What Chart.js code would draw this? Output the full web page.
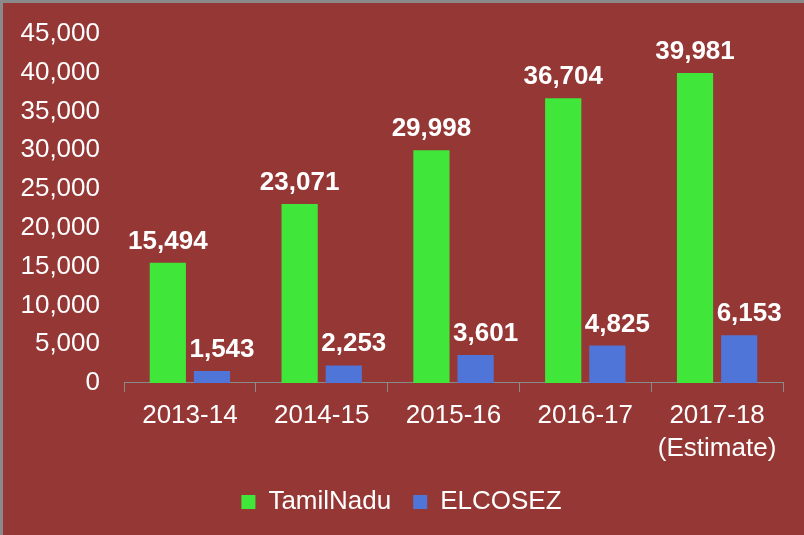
<!DOCTYPE html>
<html>
<head>
<meta charset="utf-8">
<script src="https://cdn.jsdelivr.net/npm/chart.js@4"></script>
<style>
  html, body { margin: 0; padding: 0; }
  body { width: 804px; height: 535px; background: #953735; overflow: hidden; }
  .frame { width: 801px; height: 532px; border-top: 3px solid #8a8a8a; border-left: 3px solid #8a8a8a; }
</style>
</head>
<body>
<div class="frame"><canvas id="myChart" width="801" height="532"></canvas></div>
<script>
// datos
const years = ['2013-14', '2014-15', '2015-16', '2016-17', ['2017-18', '(Estimate)']];
const tamilNadu = [15494, 23071, 29998, 36704, 39981];
const elcosez = [1543, 2253, 3601, 4825, 6153];
const yTicks = [0, 5000, 10000, 15000, 20000, 25000, 30000, 35000, 40000, 45000];

const fmt = v => v.toLocaleString('en-US');

// rotulos sobre as barras
const barLabels = {
  id: 'barLabels',
  afterDatasetsDraw(chart) {
    const c = chart.ctx;
    c.save();
    c.fillStyle = '#ffffff';
    c.font = 'bold 26px "Liberation Sans", Arial, sans-serif';
    c.textAlign = 'center';
    c.textBaseline = 'alphabetic';
    chart.data.datasets.forEach((ds, i) => {
      chart.getDatasetMeta(i).data.forEach((bar, j) => {
        const dx = i === 1 ? 10 : 0;
        c.fillText(fmt(ds.data[j]), bar.x + dx, bar.y - 14);
      });
    });
    c.restore();
  }
};

Chart.defaults.font.family = '"Liberation Sans", Arial, sans-serif';
Chart.defaults.color = '#ffffff';

new Chart(document.getElementById('myChart'), {
  type: 'bar',
  data: {
    labels: years,
    datasets: [{
      label: 'TamilNadu',
      data: tamilNadu,
      backgroundColor: '#41e63a',
      barPercentage: 0.82,
      categoryPercentage: 0.67
    }, {
      label: 'ELCOSEZ',
      data: elcosez,
      backgroundColor: '#5075d8',
      barPercentage: 0.82,
      categoryPercentage: 0.67
    }]
  },
  options: {
    responsive: false,
    animation: false,
    layout: { padding: { left: 17, right: 21, top: 31, bottom: 10 } },
    plugins: {
      tooltip: { enabled: false },
      legend: {
        position: 'bottom',
        labels: {
          color: '#ffffff',
          font: { size: 26 },
          boxWidth: 14,
          boxHeight: 14,
          padding: 22
        }
      }
    },
    scales: {
      x: {
        afterFit: axis => { axis.height -= 5; },
        grid: {
          display: true,
          offset: true,
          drawOnChartArea: false,
          drawTicks: true,
          tickLength: 9,
          color: '#8a8a8a'
        },
        border: { display: true, color: '#8a8a8a', width: 1 },
        ticks: { color: '#ffffff', font: { size: 26, lineHeight: 1.27 }, padding: 7 }
      },
      y: {
        min: 0,
        max: 45000,
        afterBuildTicks: axis => { axis.ticks = yTicks.map(v => ({ value: v })); },
        afterFit: axis => {
          axis.width = 104;
          axis.paddingTop = 0;
          axis.paddingBottom = 0;
        },
        grid: { display: false, drawTicks: false },
        border: { display: false },
        ticks: {
          color: '#ffffff',
          font: { size: 26 },
          padding: 24,
          callback: v => fmt(v)
        }
      }
    }
  },
  plugins: [barLabels]
});
</script>
</body>
</html>
